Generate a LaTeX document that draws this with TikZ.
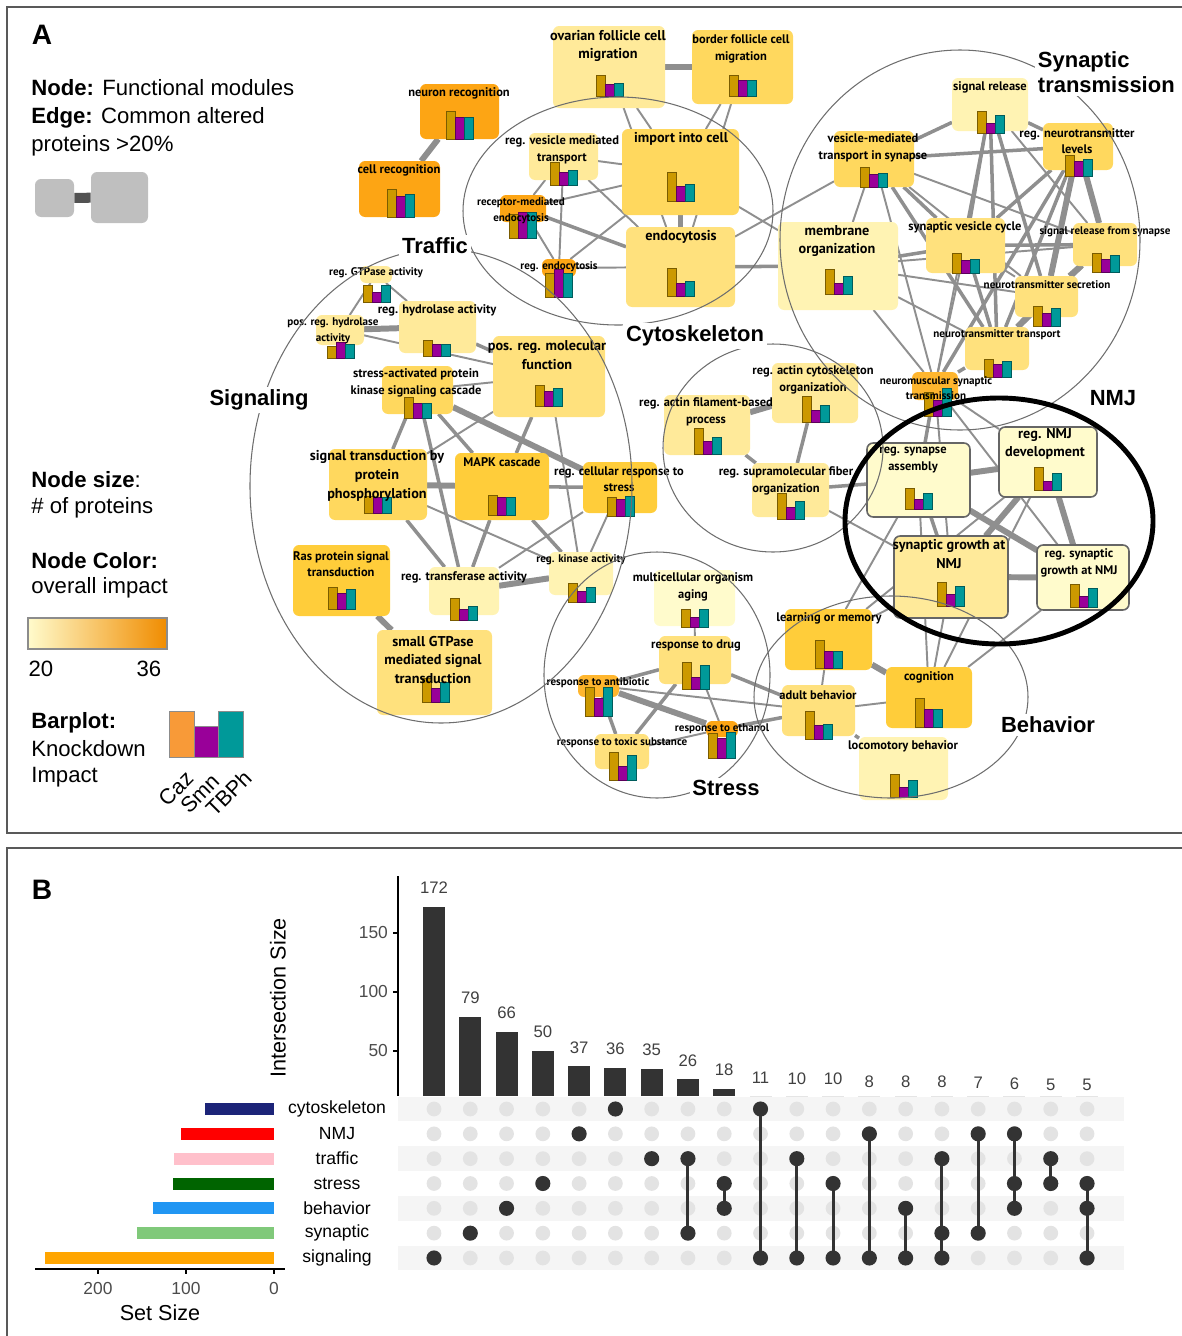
\documentclass[tikz,border=0pt]{standalone}
\usepackage{fontspec}
\setmainfont{Liberation Sans}
\newfontfamily\modfont{PT Sans}
\usetikzlibrary{fit,backgrounds}

% node colours (overall impact)
\definecolor{fA}{HTML}{FFFBCC}
\definecolor{fB}{HTML}{FFF3B3}
\definecolor{fC}{HTML}{FFEA9A}
\definecolor{fD}{HTML}{FFE17D}
\definecolor{fE}{HTML}{FFD85E}
\definecolor{fF}{HTML}{FFCD3A}
\definecolor{fG}{HTML}{FFB62E}
\definecolor{fH}{HTML}{FDA514}
\definecolor{kdA}{HTML}{CC9900}
\definecolor{kdB}{HTML}{990099}
\definecolor{kdC}{HTML}{009999}
\definecolor{legorange}{HTML}{F89A38}
\definecolor{edgegray}{HTML}{8F8F8F}
\definecolor{ringgray}{HTML}{6E6E6E}
% set colours
\definecolor{setcyto}{HTML}{1C2478}
\definecolor{setnmj}{HTML}{FF0000}
\definecolor{settraffic}{HTML}{FFC0CB}
\definecolor{setstress}{HTML}{006400}
\definecolor{setbeh}{HTML}{2196F3}
\definecolor{setsyn}{HTML}{80C97A}
\definecolor{setsig}{HTML}{FFA500}

\newcommand{\kdbars}[4]{%
  \begin{scope}[shift={(#1)}]
    \filldraw[kdgold] (0,0) rectangle (9,-#2);
    \filldraw[kdpurple] (9,0) rectangle (18,-#3);
    \filldraw[kdteal] (18,0) rectangle (27,-#4);
  \end{scope}}

\tikzset{
  modbox/.style={rounded corners=3.5pt, inner sep=0pt, outer sep=0pt},
  nmjbox/.style={modbox, draw=black!60, line width=0.9pt},
  lblS/.style={font=\modfont\bfseries\fontsize{6.3}{8.9}\selectfont, align=center, inner sep=0pt},
  lblM/.style={font=\modfont\bfseries\fontsize{7.1}{9.4}\selectfont, align=center, inner sep=0pt},
  lblL/.style={font=\modfont\bfseries\fontsize{8.1}{10.6}\selectfont, align=center, inner sep=0pt},
  ethin/.style={draw=edgegray, line width=1.1pt},
  emid/.style={draw=edgegray, line width=2pt},
  ethick/.style={draw=edgegray, line width=3.4pt},
  kdgold/.style={fill=kdA, draw=kdA!60!black, line width=0.4pt},
  kdpurple/.style={fill=kdB, draw=kdB!60!black, line width=0.4pt},
  kdteal/.style={fill=kdC, draw=kdC!60!black, line width=0.4pt},
  grp/.style={draw=ringgray, line width=0.6pt},
  grplbl/.style={font=\bfseries\fontsize{12.5}{15}\selectfont, fill=white, inner sep=1.5pt},
  legtxt/.style={font=\fontsize{12.6}{15}\selectfont, anchor=west, inner sep=0pt},
  kdname/.style={font=\fontsize{12.3}{14}\selectfont, rotate=45, anchor=north east, inner sep=0pt},
  legbox/.style={fill=black!25, rounded corners=3.5pt, inner sep=0pt},
  legedge/.style={draw=black!68, line width=5.7pt},
  panel/.style={draw=black!65, line width=0.85pt},
  ticklbl/.style={font=\fontsize{9.9}{12}\selectfont, text=black!70, inner sep=1pt},
  numlbl/.style={font=\fontsize{9.5}{11}\selectfont, text=black!75, inner sep=0pt},
  setlbl/.style={font=\fontsize{10}{12}\selectfont, inner sep=0pt},
  axtitle/.style={font=\fontsize{12.3}{14}\selectfont, inner sep=0pt},
  barfill/.style={fill=black!80},
  dotoff/.style={fill=black!11},
  doton/.style={fill=black!80},
  setlink/.style={draw=black!80, line width=1.7pt},
  stripe/.style={fill=black!4}
}

\begin{document}
\begin{tikzpicture}[x=0.02cm, y=-0.02cm]
\useasboundingbox (0,0) rectangle (1182,1336);

% panel frames
\draw[panel] (7,7) rectangle (1195,833);
\draw[panel] (1195,848) -- (7,848) -- (7,1345);

% ---------- panel A: legend ----------
\node[font=\bfseries\fontsize{16}{18}\selectfont] (labA) at (42,35) {A};
\node[legtxt] (lnode) at (31,88) {\textbf{Node:} Functional modules};
\node[legtxt] (ledge) at (31,118) {\textbf{Edge:} Common altered};
\node[legtxt] (lprot) at (31,146) {proteins >20\%};
\node[legbox, fit={(35,179) (74,217)}] (legsmall) {};
\node[legbox, fit={(91,172) (148,223)}] (legbig) {};
\node[legtxt] (lsize) at (31,480) {\textbf{Node size}:};
\node[legtxt] (lsize2) at (31,508) {\# of proteins};
\node[legtxt] (lcol) at (31,561) {\textbf{Node Color:}};
\node[legtxt] (lcol2) at (31,588) {overall impact};
\shade[left color=fA, middle color={rgb,255:red,253;green,218;blue,140}, right color={rgb,255:red,240;green,140;blue,0}] (28,618) rectangle (167,649);
\draw[black!45, line width=0.6pt] (28,618) rectangle (167,649);
\node[font=\fontsize{12.6}{15}\selectfont] (lmin) at (41,669) {20};
\node[font=\fontsize{12.6}{15}\selectfont] (lmax) at (149,669) {36};
\node[legtxt] (lbar) at (31,723) {\textbf{Barplot:}};
\node[legtxt] (lbar2) at (31,749) {Knockdown};
\node[legtxt] (lbar3) at (31,777) {Impact};
\filldraw[fill=legorange, draw=black!45] (169,757) rectangle (194,711);
\filldraw[fill=kdB, draw=black!45] (194,757) rectangle (218,726);
\filldraw[fill=kdC, draw=black!45] (218,757) rectangle (243,711);
\node[kdname] (lcaz) at (184,769) {Caz};
\node[kdname] (lsmn) at (210,772) {Smn};
\node[kdname] (ltbph) at (242,768) {TBPh};

% ---------- panel A: modules ----------
% traffic
\node[modbox, fill=fH, fit={(420,84) (499,139)}] (neurec) {};
\kdbars{446,139}{28}{22}{22}
\node[lblM] (neurec-t) at (459,93) {neuron recognition};
\node[modbox, fill=fH, fit={(359,161) (440,217)}] (cellrec) {};
\kdbars{387,217}{28}{21}{23}
\node[lblM] (cellrec-t) at (399,170) {cell recognition};
\node[modbox, fill=fC, fit={(553,26) (665,108)}] (ovarian) {};
\kdbars{596,96}{21}{12}{13}
\node[lblL] (ovarian-t) at (608,46) {ovarian follicle cell\\migration};
\node[modbox, fill=fE, fit={(692,30) (793,104)}] (border) {};
\kdbars{729,96}{21}{16}{16}
\node[lblM] (border-t) at (741,49) {border follicle cell\\migration};
\node[modbox, fill=fC, fit={(529,133) (598,180)}] (regves) {};
\kdbars{550,185}{23}{13}{15}
\node[lblM] (regves-t) at (562,150) {reg. vesicle mediated\\transport};
\node[modbox, fill=fE, fit={(622,129) (739,215)}] (import) {};
\kdbars{667,201}{29}{15}{17}
\node[lblL] (import-t) at (681,139) {import into cell};
\node[modbox, fill=fH, fit={(500,195) (546,222)}] (recep) {};
\kdbars{509,238}{24}{26}{26}
\node[lblS] (recep-t) at (521,211) {receptor-mediated\\endocytosis};
\node[modbox, fill=fH, fit={(542,259) (576,277)}] (regendo) {};
\kdbars{545,297}{24}{28}{24}
\node[lblS] (regendo-t) at (559,267) {reg. endocytosis};
\node[modbox, fill=fD, fit={(626,227) (735,307)}] (endo) {};
\kdbars{667,296}{28}{13}{15}
\node[lblL] (endo-t) at (681,237) {endocytosis};
% signaling
\node[modbox, fill=fC, fit={(360,266) (392,283)}] (gtpase) {};
\kdbars{363,302}{17}{10}{17}
\node[lblS] (gtpase-t) at (376,273) {reg. GTPase activity};
\node[modbox, fill=fC, fit={(399,301) (476,353)}] (hydro) {};
\kdbars{423,356}{16}{12}{12}
\node[lblM] (hydro-t) at (437,310) {reg. hydrolase activity};
\node[modbox, fill=fC, fit={(316,315) (364,345)}] (poshydro) {};
\kdbars{327,358}{12}{16}{14}
\node[lblS] (poshydro-t) at (333,331) {pos. reg. hydrolase\\activity};
\node[modbox, fill=fD, fit={(493,336) (605,417)}] (posmol) {};
\kdbars{535,406}{21}{15}{18}
\node[lblL] (posmol-t) at (547,355) {pos. reg. molecular\\function};
\node[modbox, fill=fE, fit={(382,366) (453,414)}] (stresskin) {};
\kdbars{404,418}{21}{15}{15}
\node[lblM] (stresskin-t) at (416,383) {stress-activated protein\\kinase signaling cascade};
\node[modbox, fill=fE, fit={(329,449) (427,520)}] (sigphos) {};
\kdbars{364,513}{17}{16}{16}
\node[lblL] (sigphos-t) at (377,476) {signal transduction by\\protein\\phosphorylation};
\node[modbox, fill=fF, fit={(455,453) (549,520)}] (mapk) {};
\kdbars{488,515}{20}{18}{18}
\node[lblM] (mapk-t) at (502,462) {MAPK cascade};
\node[modbox, fill=fF, fit={(583,462) (657,513)}] (regcell) {};
\kdbars{607,516}{19}{17}{20}
\node[lblM] (regcell-t) at (619,479) {reg. cellular response to\\stress};
\node[modbox, fill=fF, fit={(293,545) (390,616)}] (ras) {};
\kdbars{328,609}{22}{16}{20}
\node[lblM] (ras-t) at (341,564) {Ras protein signal\\transduction};
\node[modbox, fill=fB, fit={(429,567) (499,615)}] (regtrans) {};
\kdbars{450,620}{22}{11}{14}
\node[lblM] (regtrans-t) at (464,577) {reg. transferase activity};
\node[modbox, fill=fB, fit={(549,552) (613,595)}] (regkin) {};
\kdbars{568,602}{19}{11}{15}
\node[lblS] (regkin-t) at (581,560) {reg. kinase activity};
\node[modbox, fill=fD, fit={(377,630) (492,715)}] (smallgtp) {};
\kdbars{422,702}{24}{14}{20}
\node[lblL] (smallgtp-t) at (433,660) {small GTPase\\mediated signal\\transduction};
% stress
\node[modbox, fill=fA, fit={(654,570) (735,626)}] (aging) {};
\kdbars{681,627}{18}{10}{18}
\node[lblM] (aging-t) at (693,587) {multicellular organism\\aging};
\node[modbox, fill=fD, fit={(659,636) (731,684)}] (drug) {};
\kdbars{682,689}{27}{12}{24}
\node[lblM] (drug-t) at (696,645) {response to drug};
\node[modbox, fill=fG, fit={(578,675) (619,697)}] (antibio) {};
\kdbars{585,716}{29}{18}{29}
\node[lblS] (antibio-t) at (598,683) {response to antibiotic};
\node[modbox, fill=fD, fit={(595,734) (649,769)}] (toxic) {};
\kdbars{609,780}{28}{14}{25}
\node[lblS] (toxic-t) at (622,743) {response to toxic substance};
\node[modbox, fill=fH, fit={(706,721) (738,737)}] (ethanol) {};
\kdbars{708,758}{25}{20}{26}
\node[lblS] (ethanol-t) at (722,729) {response to ethanol};
% synaptic transmission
\node[modbox, fill=fB, fit={(778,222) (898,310)}] (membrane) {};
\kdbars{825,294}{25}{11}{18}
\node[lblL] (membrane-t) at (837,241) {membrane\\organization};
\node[modbox, fill=fB, fit={(952,78) (1028,131)}] (sigrel) {};
\kdbars{977,133}{22}{10}{18}
\node[lblM] (sigrel-t) at (990,87) {signal release};
\node[modbox, fill=fE, fit={(834,131) (914,187)}] (vesyn) {};
\kdbars{860,187}{20}{13}{14}
\node[lblM] (vesyn-t) at (873,148) {vesicle-mediated\\transport in synapse};
\node[modbox, fill=fE, fit={(1043,123) (1113,170)}] (regnt) {};
\kdbars{1065,176}{21}{15}{17}
\node[lblM] (regnt-t) at (1077,141) {reg. neurotransmitter\\levels};
\node[modbox, fill=fD, fit={(926,218) (1005,273)}] (svc) {};
\kdbars{952,273}{20}{13}{14}
\node[lblM] (svc-t) at (965,227) {synaptic vesicle cycle};
\node[modbox, fill=fD, fit={(1073,223) (1137,266)}] (srfs) {};
\kdbars{1092,272}{19}{13}{17}
\node[lblS] (srfs-t) at (1105,232) {signal release from synapse};
\node[modbox, fill=fD, fit={(1015,276) (1078,317)}] (ntsec) {};
\kdbars{1033,326}{20}{13}{18}
\node[lblS] (ntsec-t) at (1047,285) {neurotransmitter secretion};
\node[modbox, fill=fD, fit={(965,327) (1029,370)}] (nttrans) {};
\kdbars{984,377}{18}{13}{16}
\node[lblS] (nttrans-t) at (997,335) {neurotransmitter transport};
\node[modbox, fill=fG, fit={(912,372) (958,400)}] (nmsyn) {};
\kdbars{924,416}{24}{16}{28}
\node[lblS] (nmsyn-t) at (936,388) {neuromuscular synaptic\\transmission};
% cytoskeleton
\node[modbox, fill=fC, fit={(772,363) (858,423)}] (actcyto) {};
\kdbars{802,422}{26}{12}{17}
\node[lblM] (actcyto-t) at (813,380) {reg. actin cytoskeleton\\organization};
\node[modbox, fill=fC, fit={(664,395) (750,455)}] (actfil) {};
\kdbars{694,454}{26}{13}{17}
\node[lblM] (actfil-t) at (706,412) {reg. actin filament-based\\process};
\node[modbox, fill=fC, fit={(752,463) (829,517)}] (regsupra) {};
\kdbars{777,519}{26}{12}{18}
\node[lblM] (regsupra-t) at (786,481) {reg. supramolecular fiber\\organization};
% NMJ
\node[nmjbox, fill=fA, fit={(867,443) (970,517)}] (synassem) {};
\kdbars{905,509}{21}{10}{16}
\node[lblM] (synassem-t) at (913,460) {reg. synapse\\assembly};
\node[nmjbox, fill=fA, fit={(999,427) (1097,497)}] (regnmj) {};
\kdbars{1034,490}{23}{9}{17}
\node[lblL] (regnmj-t) at (1045,444) {reg. NMJ\\development};
\node[nmjbox, fill=fC, fit={(894,536) (1008,618)}] (syngrowth) {};
\kdbars{937,606}{24}{12}{20}
\node[lblL] (syngrowth-t) at (949,554) {synaptic growth at\\NMJ};
\node[nmjbox, fill=fA, fit={(1037,545) (1129,610)}] (regsyngrow) {};
\kdbars{1070,607}{23}{11}{19}
\node[lblM] (regsyngrow-t) at (1079,563) {reg. synaptic\\growth at NMJ};
% behavior
\node[modbox, fill=fF, fit={(785,609) (872,670)}] (learning) {};
\kdbars{815,668}{28}{17}{17}
\node[lblM] (learning-t) at (829,618) {learning or memory};
\node[modbox, fill=fF, fit={(886,667) (972,728)}] (cognition) {};
\kdbars{915,727}{29}{18}{18}
\node[lblM] (cognition-t) at (929,677) {cognition};
\node[modbox, fill=fD, fit={(782,685) (855,736)}] (adult) {};
\kdbars{805,739}{28}{14}{15}
\node[lblM] (adult-t) at (818,695) {adult behavior};
\node[modbox, fill=fB, fit={(859,737) (948,800)}] (locomotory) {};
\kdbars{890,797}{23}{10}{17}
\node[lblM] (locomotory-t) at (903,746) {locomotory behavior};

% ---------- edges ----------
\begin{scope}[on background layer]
\draw[legedge] (legsmall) -- (legbig);
% traffic
\draw[ethick] (neurec) -- (cellrec);
\draw[ethick] (ovarian) -- (border);
\draw[ethin] (ovarian) -- (import);
\draw[ethin] (ovarian) -- (endo);
\draw[ethin] (border) -- (import);
\draw[ethin] (border) -- (endo);
\draw[ethin] (regves) -- (import);
\draw[ethin] (regves) -- (endo);
\draw[ethin] (regves) -- (recep);
\draw[ethin] (regves) -- (regendo);
\draw[ethin] (recep) -- (import);
\draw[emid] (recep) -- (endo);
\draw[ethin] (recep) -- (regendo);
\draw[ethin] (regendo) -- (endo);
\draw[ethin] (regendo) -- (import);
\draw[ethick] (import) -- (endo);
\draw[ethin] (import) -- (membrane);
\draw[emid] (endo) -- (membrane);
\draw[ethin] (endo) -- (vesyn);
% signaling
\draw[ethin] (gtpase) -- (hydro);
\draw[ethin] (gtpase) -- (poshydro);
\draw[ethick] (poshydro) -- (hydro);
\draw[ethin] (poshydro) -- (posmol);
\draw[emid] (hydro) -- (posmol);
\draw[ethin] (stresskin) -- (posmol);
\draw[emid] (stresskin) -- (sigphos);
\draw[emid] (stresskin) -- (mapk);
\draw[ethick] (stresskin) -- (regcell);
\draw[emid] (stresskin) -- (regtrans);
\draw[ethin] (posmol) -- (sigphos);
\draw[emid] (posmol) -- (mapk);
\draw[ethin] (posmol) -- (regkin);
\draw[ethick] (sigphos) -- (mapk);
\draw[emid] (sigphos) -- (regtrans);
\draw[ethin] (sigphos) -- (regkin);
\draw[emid] (mapk) -- (regtrans);
\draw[emid] (mapk) -- (regkin);
\draw[emid] (mapk) -- (regcell);
\draw[ethin] (regcell) -- (regkin);
\draw[ethin] (regcell) -- (regtrans);
\draw[ethick] (regtrans) -- (regkin);
\draw[ethick] (ras) -- (smallgtp);
% cytoskeleton
\draw[ethick] (actfil) -- (actcyto);
\draw[emid] (actfil) -- (regsupra);
\draw[emid] (actcyto) -- (regsupra);
\draw[emid] (regsupra) -- (synassem);
\draw[ethin] (regsupra) -- (syngrowth);
% synaptic transmission
\draw[emid] (sigrel) -- (vesyn);
\draw[emid] (sigrel) -- (regnt);
\draw[emid] (sigrel) -- (svc);
\draw[ethin] (sigrel) -- (srfs);
\draw[emid] (sigrel) -- (ntsec);
\draw[emid] (sigrel) -- (nttrans);
\draw[ethin] (sigrel) -- (nmsyn);
\draw[emid] (vesyn) -- (regnt);
\draw[emid] (vesyn) -- (svc);
\draw[ethin] (vesyn) -- (srfs);
\draw[ethin] (vesyn) -- (ntsec);
\draw[emid] (vesyn) -- (nttrans);
\draw[ethin] (vesyn) -- (nmsyn);
\draw[ethin] (vesyn) -- (membrane);
\draw[emid] (regnt) -- (svc);
\draw[ethick] (regnt) -- (srfs);
\draw[ethick] (regnt) -- (ntsec);
\draw[emid] (regnt) -- (nttrans);
\draw[emid] (regnt) -- (nmsyn);
\draw[emid] (svc) -- (srfs);
\draw[ethin] (svc) -- (ntsec);
\draw[emid] (svc) -- (nttrans);
\draw[ethin] (svc) -- (nmsyn);
\draw[emid] (svc) -- (membrane);
\draw[ethick] (srfs) -- (ntsec);
\draw[emid] (srfs) -- (nttrans);
\draw[ethin] (srfs) -- (membrane);
\draw[ethick] (ntsec) -- (nttrans);
\draw[ethin] (ntsec) -- (membrane);
\draw[emid] (nttrans) -- (nmsyn);
\draw[ethin] (nttrans) -- (membrane);
\draw[ethin] (membrane) -- (nmsyn);
% NMJ
\draw[emid] (nmsyn) -- (synassem);
\draw[ethin] (nmsyn) -- (regnmj);
\draw[ethin] (nmsyn) -- (syngrowth);
\draw[ethin] (nmsyn) -- (regsyngrow);
\draw[ethick] (synassem) -- (regnmj);
\draw[emid] (synassem) -- (syngrowth);
\draw[ethick] (synassem) -- (regsyngrow);
\draw[ethick] (regnmj) -- (syngrowth);
\draw[ethick] (regnmj) -- (regsyngrow);
\draw[ethick] (syngrowth) -- (regsyngrow);
\draw[ethin] (syngrowth) -- (learning);
\draw[ethin] (syngrowth) -- (cognition);
\draw[ethin] (synassem) -- (learning);
\draw[ethin] (synassem) -- (cognition);
\draw[ethin] (regnmj) -- (cognition);
\draw[ethin] (regnmj) -- (learning);
\draw[ethin] (regsyngrow) -- (cognition);
% behavior
\draw[ethick] (learning) -- (cognition);
\draw[ethin] (learning) -- (adult);
\draw[ethin] (adult) -- (cognition);
\draw[emid] (adult) -- (locomotory);
% stress
\draw[ethin] (aging) -- (drug);
\draw[emid] (drug) -- (antibio);
\draw[emid] (drug) -- (toxic);
\draw[ethin] (drug) -- (ethanol);
\draw[emid] (drug) -- (adult);
\draw[ethick] (antibio) -- (ethanol);
\draw[emid] (antibio) -- (toxic);
\draw[ethin] (antibio) -- (adult);
\draw[ethin] (toxic) -- (ethanol);
\draw[emid] (ethanol) -- (adult);
\end{scope}

% ---------- groups ----------
\draw[grp] (618,211) ellipse [x radius=155, y radius=114];
\draw[grp] (441,486) ellipse [x radius=191, y radius=237];
\draw[grp] (960,240) ellipse [x radius=180, y radius=190];
\draw[grp] (773,448) ellipse [x radius=110, y radius=104];
\draw[grp] (657,675) ellipse [x radius=113, y radius=123];
\draw[grp] (891,697) ellipse [x radius=137, y radius=101];
\draw[line width=2.8pt] (999,521) ellipse [x radius=154, y radius=123];
\node[grplbl] (gtraffic) at (435,246) {Traffic};
\node[grplbl] (gcyto) at (695,336) {Cytoskeleton};
\node[grplbl] (gsig) at (259,400) {Signaling};
\node[grplbl] (gnmj) at (1113,398) {NMJ};
\node[grplbl] (gbeh) at (1048,725) {Behavior};
\node[grplbl] (gstress) at (726,788) {Stress};
\node[grplbl, align=left, anchor=west, font=\bfseries\fontsize{12.5}{14.6}\selectfont] (gsyn) at (1035,72) {Synaptic\\transmission};

% ---------- panel B ----------
\node[font=\bfseries\fontsize{16}{18}\selectfont] (labB) at (42,890) {B};
% intersection bars
\draw[line width=0.9pt] (398,876) -- (398,1096);
\foreach \t/\yy in {150/932.7, 100/991.7, 50/1050.7} {
  \draw[line width=0.9pt] (393,\yy) -- (398,\yy);
  \node[ticklbl, anchor=east] at (390,\yy) {\t};
}
\node[axtitle, rotate=90] (ititle) at (278,998) {Intersection Size};
\foreach \r in {0,2,4,6}
  \fill[stripe] (398,{1096.6+24.83*\r}) rectangle (1124,{1121.4+24.83*\r});
\foreach \v [count=\i from 0] in {172,79,66,50,37,36,35,26,18,11,10,10,8,8,8,7,6,5,5} {
  \pgfmathsetmacro\cx{434+36.28*\i}
  \pgfmathsetmacro\bartop{min(1110-1.18*\v,1096)}
  \pgfmathsetmacro\numy{1110-1.18*\v-19}
  \fill[barfill] ({\cx-11},\bartop) rectangle ({\cx+11},1096);
  \node[numlbl] (n\i) at (\cx,\numy) {\v};
}
% matrix
\foreach \i in {0,...,18} {
  \foreach \r in {0,...,6} {
    \coordinate (m-\i-\r) at ({434+36.28*\i},{1109+24.83*\r});
    \fill[dotoff] (m-\i-\r) circle [radius=4.2pt];
  }
}
\foreach \i/\a/\b in {7/2/5, 8/3/4, 9/0/6, 10/2/6, 11/3/6, 12/1/6, 13/4/6, 14/2/6, 15/1/5, 16/1/4, 17/2/3, 18/3/6}
  \draw[setlink] (m-\i-\a) -- (m-\i-\b);
\foreach \i/\r in {0/6,1/5,2/4,3/3,4/1,5/0,6/2,7/2,7/5,8/3,8/4,9/0,9/6,10/2,10/6,11/3,11/6,12/1,12/6,13/4,13/6,14/2,14/5,14/6,15/1,15/5,16/1,16/3,16/4,17/2,17/3,18/3,18/4,18/6}
  \fill[doton] (m-\i-\r) circle [radius=4.3pt];
% set sizes
\foreach \nm/\len/\col [count=\r from 0] in {cytoskeleton/78/setcyto, NMJ/106/setnmj, traffic/114/settraffic, stress/115/setstress, behavior/137/setbeh, synaptic/156/setsyn, signaling/260/setsig} {
  \fill[\col] ({274-0.88*\len},{1103+24.83*\r}) rectangle (274,{1115+24.83*\r});
  \node[setlbl] (s\r) at (337,{1109+24.83*\r}) {\nm};
}
\draw[line width=0.9pt] (35,1269) -- (285,1269);
\foreach \t/\xx in {200/98, 100/186, 0/274} {
  \draw[line width=0.9pt] (\xx,1269) -- (\xx,1274);
  \node[ticklbl] at (\xx,1288) {\t};
}
\node[axtitle] (stitle) at (160,1313) {Set Size};
\end{tikzpicture}
\end{document}
